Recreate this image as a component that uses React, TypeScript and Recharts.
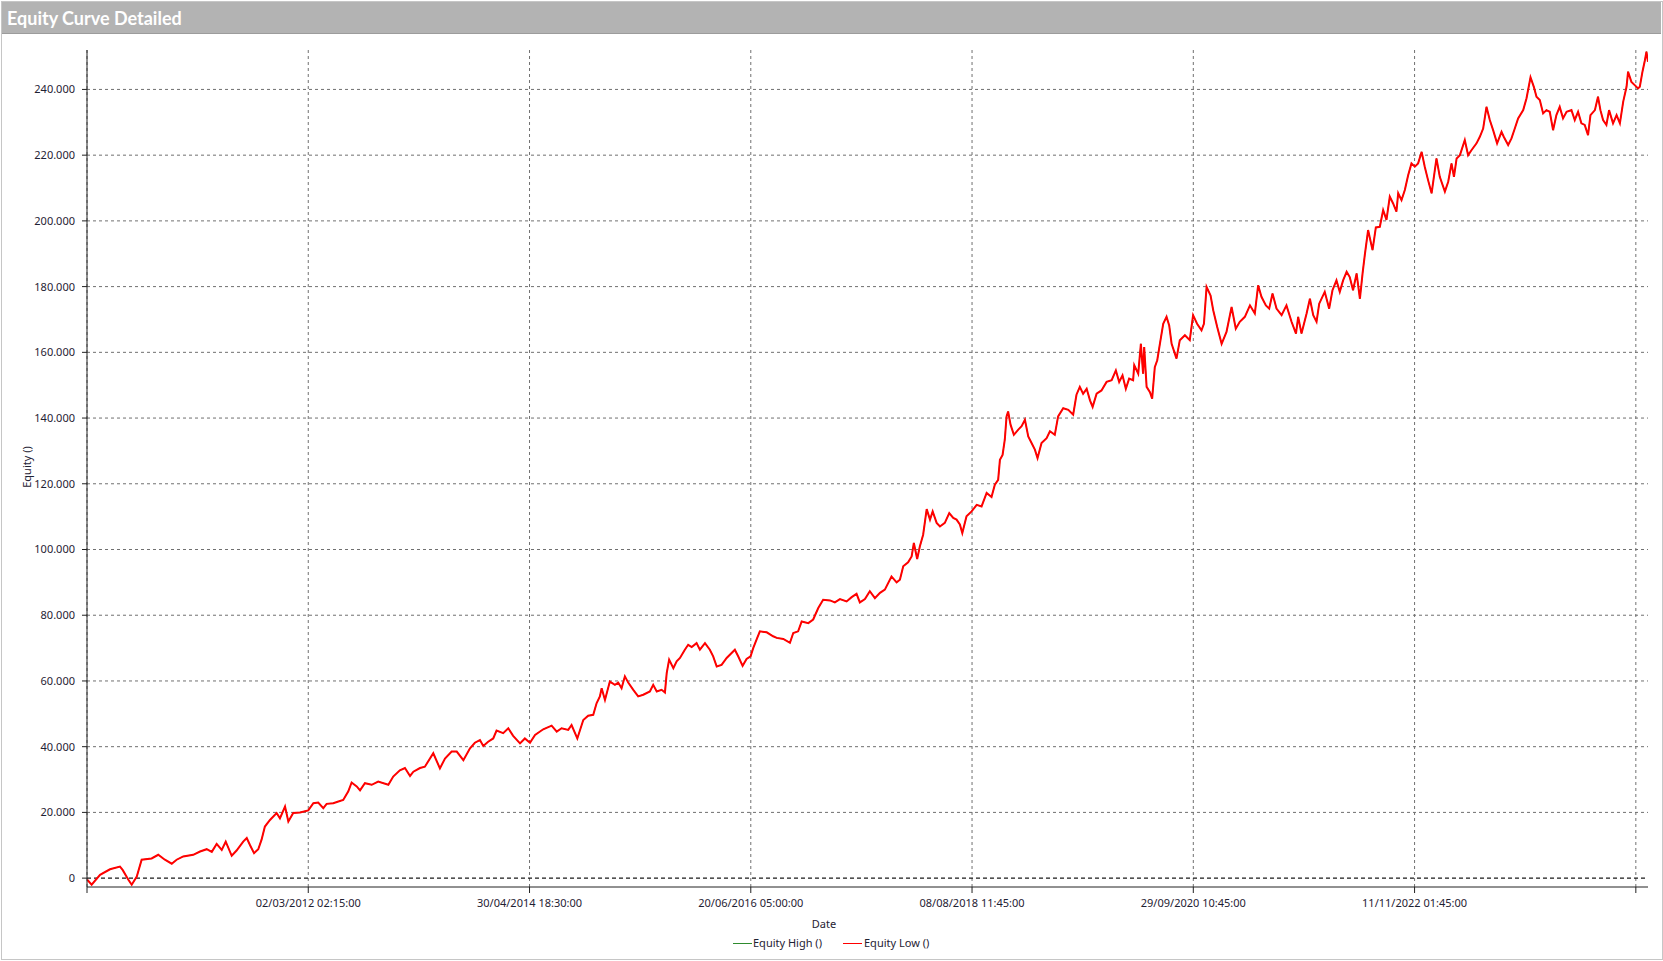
import React from 'react';
import { LineChart, Line, XAxis, YAxis, ReferenceLine } from 'recharts';

if (typeof document !== 'undefined') {
  document.body.style.margin = '0';
}

const chartTitle = 'Equity Curve Detailed';
const xAxisTitle = 'Date';
const yAxisTitle = 'Equity ()';
const seriesNames = ['Equity High ()', 'Equity Low ()'];

const xTicks = [0, 100, 200, 300, 400, 500, 600, 700];
const xTickLabels = [
  '',
  '02/03/2012 02:15:00',
  '30/04/2014 18:30:00',
  '20/06/2016 05:00:00',
  '08/08/2018 11:45:00',
  '29/09/2020 10:45:00',
  '11/11/2022 01:45:00',
  '',
];
const yTicks = [0, 20000, 40000, 60000, 80000, 100000, 120000, 140000, 160000, 180000, 200000, 220000, 240000];

// [bar position, equity]
const equityPoints: [number, number][] = [
  [0.1, -500], [2.1, -2000], [5.9, 1000], [10.4, 2700], [14.9, 3500], [16.1, 2500], [18.7, -500], [20.2, -2000],
  [22.5, 500], [24.7, 5600], [29.2, 6000], [32.2, 7100], [35.2, 5600], [38.3, 4400], [40.5, 5600], [43.5, 6600],
  [48.0, 7100], [51.1, 8100], [54.1, 8800], [56.4, 8000], [58.6, 10400], [60.9, 8600], [62.7, 11100], [65.4, 6800],
  [67.6, 8400], [70.6, 11100], [72.2, 12200], [73.7, 10000], [75.5, 7600], [77.4, 8800], [78.9, 11700], [80.4, 15700],
  [82.7, 17700], [85.7, 19800], [87.2, 18200], [89.5, 21800], [91.0, 17200], [93.2, 19800], [96.3, 20000], [100.0, 20600],
  [102.3, 22800], [104.5, 23000], [106.8, 21300], [108.3, 22600], [111.3, 22800], [113.6, 23300], [115.8, 23800],
  [118.1, 26400], [119.6, 29100], [121.9, 27900], [123.4, 26700], [125.6, 28900], [128.7, 28400], [131.6, 29400],
  [136.2, 28400], [138.4, 30900], [141.4, 32800], [143.7, 33500], [146.0, 31100], [147.5, 32400], [150.5, 33500],
  [152.7, 33900], [156.5, 38000], [159.5, 33400], [161.8, 36400], [164.8, 38500], [167.1, 38500], [170.1, 35900],
  [173.1, 39500], [175.3, 41200], [177.6, 42000], [179.1, 40200], [181.3, 41500], [183.6, 42500], [185.1, 44900],
  [188.1, 44100], [190.4, 45600], [192.6, 43300], [195.7, 41000], [197.9, 42500], [200.2, 41200], [202.5, 43600],
  [206.2, 45300], [210.0, 46400], [212.3, 44600], [214.5, 45600], [217.5, 45100], [219.0, 46600], [221.6, 42500],
  [224.3, 48100], [226.5, 49400], [228.8, 49700], [230.3, 53200], [231.8, 55300], [232.6, 57800], [234.1, 54200],
  [236.3, 59800], [238.6, 58800], [240.1, 59500], [241.6, 57800], [243.1, 61400], [244.6, 59500], [246.9, 57300],
  [249.1, 55300], [251.4, 55800], [254.4, 56800], [255.9, 58800], [257.5, 56800], [259.7, 57300], [261.2, 56500],
  [262.0, 62400], [263.1, 66500], [265.0, 63900], [266.5, 66000], [268.0, 67000], [270.2, 69500], [271.7, 71000],
  [273.3, 70300], [275.5, 71500], [277.0, 69500], [279.3, 71500], [281.5, 69500], [283.0, 67500], [284.6, 64400],
  [286.8, 64900], [289.1, 67000], [292.8, 69500], [294.3, 67500], [296.3, 64600], [298.1, 66700], [299.9, 67500],
  [301.1, 70000], [302.6, 72600], [304.1, 75100], [307.2, 74800], [310.1, 73600],
  [311.7, 73100], [314.7, 72800], [317.7, 71600], [319.2, 74600], [321.4, 75100], [323.0, 78100], [326.0, 77600],
  [328.2, 78700], [330.5, 82200], [332.7, 84700], [335.8, 84500], [338.0, 83900], [340.3, 84900], [343.3, 84200],
  [345.6, 85500], [347.8, 86500], [349.3, 83900], [351.6, 84900], [353.8, 87300], [356.1, 85200], [358.4, 86800],
  [360.6, 87800], [363.6, 91800], [365.9, 90000], [367.4, 90800], [368.9, 94900], [371.1, 96100], [372.7, 97900],
  [373.7, 102000], [375.2, 97100], [376.4, 100900], [377.9, 104500], [379.5, 112300], [381.0, 109100], [382.2, 111600],
  [384.0, 108100], [385.5, 107000], [387.7, 108100], [389.7, 111100], [391.5, 109600], [393.0, 109100], [394.5, 107600],
  [395.6, 105000], [397.5, 110100], [399.8, 111600], [402.1, 113600], [404.3, 113100], [406.6, 117200], [408.8, 116000],
  [410.3, 119700], [411.8, 121200], [412.6, 127300], [413.8, 128800], [414.8, 133400], [415.6, 140500], [416.3, 142000],
  [417.4, 138000], [418.9, 134900], [420.9, 136500], [422.4, 137500], [423.9, 139500], [425.4, 134400], [426.9, 132400],
  [428.4, 130400], [429.6, 127800], [431.4, 132400], [433.7, 133900], [435.2, 136000], [437.4, 134900], [438.9, 140500],
  [441.2, 143000], [443.5, 142500], [445.7, 141000], [447.2, 147100],
  [448.7, 149500], [450.2, 147400], [451.8, 148900], [453.3, 145400], [454.5, 143400], [456.3, 147400], [458.5, 148400],
  [460.8, 151000], [463.1, 151500], [465.0, 154500], [466.5, 151000], [468.0, 153000], [469.5, 148900], [471.0, 152000],
  [472.8, 151500], [473.3, 156100], [475.1, 153500], [476.3, 162600], [477.3, 153500], [477.8, 161600], [478.9, 149500],
  [480.4, 147900], [481.4, 145900], [482.6, 155500], [483.7, 157600], [484.9, 162600], [486.4, 168700], [487.9, 170800],
  [489.1, 168200], [490.2, 162600], [492.4, 158100], [493.9, 163700], [496.2, 165200], [498.4, 163700], [499.9, 171300],
  [501.7, 168700], [503.7, 166700], [504.8, 168700], [506.0, 179900], [507.8, 177300], [509.0, 172800], [510.8, 167700],
  [512.8, 162600], [515.0, 166200], [517.3, 173800], [519.2, 167200], [521.0, 169300], [523.3, 170800], [525.6, 174300],
  [527.8, 171800], [529.3, 180400], [530.8, 176900], [532.8, 174300], [534.3, 173300], [535.8, 177900], [537.6, 173300],
  [539.9, 171300], [542.1, 174300], [544.4, 169300], [546.4, 165700], [547.4, 170800], [548.9, 165700], [551.2, 171800],
  [552.7, 176300], [554.2, 171300], [555.7, 169300], [556.9, 174800], [559.4, 178400], [561.4, 173300], [562.9, 178900],
  [564.7, 181900], [566.2, 178400], [567.7, 181900], [569.3, 184500], [570.7, 182900], [572.2, 178900], [573.8, 184000],
  [575.3, 176300], [576.5, 184000], [577.5, 189600], [579.0, 197200], [581.0, 191100], [582.5, 198000],
  [584.3, 198200], [585.8, 203300], [587.3, 200300], [588.8, 207400], [590.3, 205300], [591.8, 202800], [592.6, 208400],
  [594.1, 206300], [595.6, 209400], [597.1, 213900], [598.6, 217500], [600.1, 216500], [601.6, 217500], [603.2, 221000],
  [604.6, 216500], [606.1, 212400], [607.7, 208400], [609.9, 219000], [611.4, 213400], [613.7, 208900], [615.2, 211900],
  [616.7, 217500], [617.8, 213400], [619.0, 219000], [620.5, 220000], [622.7, 224600], [624.2, 220000], [625.7, 221500],
  [628.0, 223600], [629.5, 225600], [631.0, 228100], [632.5, 234700], [634.0, 230700], [635.5, 227600], [637.3, 223600],
  [639.3, 227100], [640.3, 225600], [642.3, 223100], [643.8, 225100], [645.3, 228100], [646.8, 231200], [649.1, 233700],
  [650.6, 237300], [652.4, 243700], [653.9, 240800], [655.1, 237800], [656.6, 236800], [658.1, 232700], [659.6, 233700],
  [661.1, 233200], [662.6, 227600], [664.1, 232200], [665.6, 234700], [667.1, 231200], [668.7, 233200], [670.9, 233700],
  [672.4, 230700], [673.9, 233200], [675.4, 229700], [676.9, 229200], [678.4, 226100], [679.5, 232200], [681.5, 233700],
  [682.9, 237800], [684.0, 233700], [685.2, 230700], [686.7, 229200], [687.9, 233700], [689.7, 229700], [691.3, 232200],
  [692.8, 229700], [694.3, 236300], [695.8, 240800], [696.5, 245400], [698.0, 242300], [699.5, 241300], [701.0, 240300],
  [701.8, 240800], [703.0, 245400], [704.1, 248900], [704.8, 251500], [705.5, 248400],
];

const data = equityPoints.map(([bar, v]) => ({ bar, high: v, low: v }));

const fmtY = (v: number) => (v === 0 ? '0' : `${Math.round(v / 1000)}.000`);
const fmtX = (v: number) => {
  const i = xTicks.indexOf(v);
  return i >= 0 ? xTickLabels[i] : '';
};

const FONT = '"Noto Sans", "Open Sans", sans-serif';
const TEXT = '#1f2233';
const GRID = '#707070';

export default function App() {
  return (
    <div style={{ position: 'relative', width: 1663, height: 961, background: '#fff', fontFamily: FONT, overflow: 'hidden' }}>
      <div
        style={{
          position: 'absolute', left: 1, top: 1, width: 1660, height: 957,
          border: '1px solid #c6c6c6', boxSizing: 'content-box',
        }}
      />
      <div
        style={{
          position: 'absolute', left: 2, top: 2, width: 1659, height: 32,
          background: '#b3b3b3', borderBottom: '1px solid #9c9c9c',
          color: '#fff', fontFamily: 'Lato, "Noto Sans", sans-serif', fontWeight: 700,
          fontSize: 18, lineHeight: '32px', paddingLeft: 5, boxSizing: 'border-box',
        }}
      >
        {chartTitle}
      </div>
      <div style={{ position: 'absolute', left: 0, top: 0 }}>
        <LineChart width={1663} height={961} data={data} margin={{ top: 50, right: 15, left: 7, bottom: 44 }}>
          <XAxis
            type="number"
            dataKey="bar"
            domain={[0, 705.5]}
            ticks={xTicks}
            interval={0}
            allowDataOverflow
            tickFormatter={fmtX}
            height={30}
            tickSize={6}
            tickMargin={6}
            stroke="#222"
            tick={{ fontSize: 11, fill: TEXT, fontFamily: FONT }}
          />
          <YAxis
            type="number"
            domain={[-2700, 252000]}
            ticks={yTicks}
            interval={0}
            allowDataOverflow
            tickFormatter={fmtY}
            width={80}
            tickSize={5}
            tickMargin={7}
            stroke="#222"
            tick={{ fontSize: 11, fill: TEXT, fontFamily: FONT }}
          />
          {yTicks.filter((t) => t !== 0).map((t) => (
            <ReferenceLine key={`h${t}`} y={t} stroke={GRID} strokeDasharray="3 3" />
          ))}
          {xTicks.map((t) => (
            <ReferenceLine key={`v${t}`} x={t} stroke={GRID} strokeDasharray="3 3" />
          ))}
          <ReferenceLine y={0} stroke="#1a1a1a" strokeDasharray="4 3" strokeWidth={1.3} />
          <Line type="linear" dataKey="high" name={seriesNames[0]} stroke="#2e8b2e" strokeWidth={1} dot={false} isAnimationActive={false} />
          <Line type="linear" dataKey="low" name={seriesNames[1]} stroke="#ff0000" strokeWidth={2} dot={false} isAnimationActive={false} />
        </LineChart>
      </div>
      <div style={{ position: 'absolute', left: 824, top: 917, transform: 'translateX(-50%)', fontSize: 11, lineHeight: '13px', color: TEXT }}>
        {xAxisTitle}
      </div>
      <div
        style={{
          position: 'absolute', left: 26, top: 467, transform: 'translate(-50%, -50%) rotate(-90deg)',
          fontSize: 11, lineHeight: '13px', color: TEXT, whiteSpace: 'nowrap',
        }}
      >
        {yAxisTitle}
      </div>
      <div style={{ position: 'absolute', left: 733, top: 943, width: 19, height: 1, background: '#2e8b2e' }} />
      <div style={{ position: 'absolute', left: 753, top: 936, fontSize: 11, lineHeight: '13px', color: TEXT, whiteSpace: 'nowrap' }}>
        {seriesNames[0]}
      </div>
      <div style={{ position: 'absolute', left: 843, top: 943, width: 19, height: 1, background: '#ff0000' }} />
      <div style={{ position: 'absolute', left: 864, top: 936, fontSize: 11, lineHeight: '13px', color: TEXT, whiteSpace: 'nowrap' }}>
        {seriesNames[1]}
      </div>
    </div>
  );
}
